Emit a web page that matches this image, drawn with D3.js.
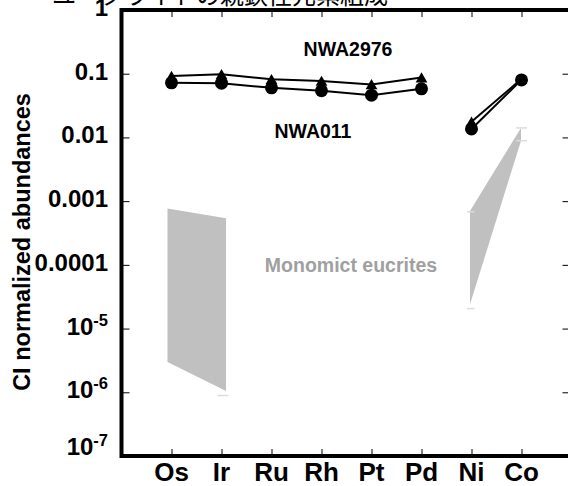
<!DOCTYPE html>
<html><head><meta charset="utf-8">
<script src="https://cdn.jsdelivr.net/npm/d3@7"></script>
<style>
html,body{margin:0;padding:0;background:#fff;}
svg{display:block;}
text{font-family:"Liberation Sans",Arial,Helvetica,sans-serif;font-weight:bold;}
</style></head>
<body>
<svg id="chart" width="568" height="486"></svg>
<script>
// ---- data ----
const title = "ユークライトの親鉄性元素組成";
const yTitle = "CI normalized abundances";
const categories = ["Os","Ir","Ru","Rh","Pt","Pd","Ni","Co"];
const yTicks = [1,0.1,0.01,0.001,0.0001,1e-5,1e-6,1e-7];
const yTickLabels = ["1","0.1","0.01","0.001","0.0001","10^-5","10^-6","10^-7"];
// NWA2976 (triangles) and NWA011 (circles)
const nwa2976 = [0.092,0.098,0.082,0.077,0.068,0.087,0.0176,0.083];
const nwa011  = [0.072,0.071,0.060,0.054,0.046,0.058,0.0136,0.080];
// Monomict eucrites ranges: [xIndex, low, high]
const eucriteRangeA = [[0.92,3.0e-6,7.7e-4],[2.09,1.05e-6,5.4e-4]];
const eucriteRangeB = [[6.97,2.4e-5,7.0e-4],[7.99,0.0089,0.0141]];
const eucriteCaps = [[1.98,8.9e-7],[2.08,8.9e-7],[6.97,2.06e-5],[7.0,2.06e-5],[6.97,6.8e-4],[7.0,6.8e-4],[7.95,0.0141],[8.05,0.0141],[7.95,0.0089],[8.05,0.0089]];
const labelNWA2976 = "NWA2976", labelNWA011 = "NWA011", labelEuc = "Monomict eucrites";

// ---- scales ----
const svg = d3.select("#chart");
const x = d3.scaleLinear().domain([0,9]).range([121.5,571.5]);
const y = d3.scaleLog().domain([1e-7,1]).range([456,10]);
const xi = i => x(i+1);

// title
svg.append("text").attr("x",52).attr("y",4)
  .style("font-family","'Noto Sans CJK JP',sans-serif").style("font-weight","normal")
  .style("font-size","24px").attr("fill","#000").text(title);

// eucrite polygons
const area = d3.area().x(d=>x(d[0])).y0(d=>y(d[1])).y1(d=>y(d[2]));
[eucriteRangeA,eucriteRangeB].forEach(r=>{
  svg.append("path").attr("d",area(r)).attr("fill","#c0c0c0").attr("stroke","none");
});
for(let k=0;k<eucriteCaps.length;k+=2){
  const a=eucriteCaps[k], b=eucriteCaps[k+1];
  svg.append("line").attr("x1",x(a[0])-3).attr("x2",x(b[0])+3)
    .attr("y1",y(a[1])).attr("y2",y(b[1]))
    .attr("stroke","#dcdcdc").attr("stroke-width",1.5);
}

// lines
const line = d3.line().defined(d=>d!=null).x((d,i)=>xi(i)).y(d=>y(d));
function seriesLine(vals){
  const seg1 = vals.map((v,i)=> i<6 ? v : null);
  const seg2 = vals.map((v,i)=> i>=6 ? v : null);
  [seg1,seg2].forEach(s=>{
    svg.append("path").attr("d",line(s)).attr("fill","none")
      .attr("stroke","#000").attr("stroke-width",2);
  });
}
seriesLine(nwa2976);
seriesLine(nwa011);

// markers
svg.selectAll(".circ").data(nwa011).enter().append("circle")
  .attr("cx",(d,i)=>xi(i)).attr("cy",d=>y(d)).attr("r",6.5).attr("fill","#000");
const tri = d3.symbol().type(d3.symbolTriangle).size(60);
svg.selectAll(".tri").data(nwa2976).enter().append("path")
  .attr("d",tri).attr("transform",(d,i)=>`translate(${xi(i)},${y(d)+1.5})`).attr("fill","#000");

// text labels
svg.append("text").attr("x",348).attr("y",y(0.1)-18).attr("text-anchor","middle")
  .style("font-size","19.5px").text(labelNWA2976);
svg.append("text").attr("x",313).attr("y",y(0.01)+1).attr("text-anchor","middle")
  .style("font-size","19.5px").text(labelNWA011);
svg.append("text").attr("x",351).attr("y",y(1e-4)+7).attr("text-anchor","middle")
  .style("font-size","19.5px").attr("fill","#a0a0a0").text(labelEuc);

// frame
const fr = svg.append("g").attr("stroke","#000").attr("stroke-width",4).attr("fill","none");
fr.append("line").attr("x1",x(0)).attr("x2",x(9)).attr("y1",y(1)).attr("y2",y(1));
fr.append("line").attr("x1",x(0)).attr("x2",x(9)).attr("y1",y(1e-7)).attr("y2",y(1e-7));
fr.append("line").attr("x1",x(0)).attr("x2",x(0)).attr("y1",y(1)-2).attr("y2",y(1e-7)+2);
fr.append("line").attr("x1",x(9)).attr("x2",x(9)).attr("y1",y(1)-2).attr("y2",y(1e-7)+2);

// ticks via axes (inward)
const catIdx = categories.map((c,i)=>i+1);
const axB = d3.axisBottom(x).tickValues(catIdx).tickSize(-7).tickFormat("");
const axT = d3.axisTop(x).tickValues(catIdx).tickSize(-7).tickFormat("");
const axL = d3.axisLeft(y).tickValues(yTicks).tickSize(-8).tickFormat("");
const axR = d3.axisRight(y).tickValues(yTicks).tickSize(-9).tickFormat("");
[[axB,`translate(0,${y(1e-7)})`],[axT,`translate(0,${y(1)})`],[axL,`translate(${x(0)},0)`],[axR,`translate(${x(9)},0)`]]
.forEach(([ax,tr])=>{
  const g=svg.append("g").attr("transform",tr).call(ax);
  g.select(".domain").remove();
  g.selectAll(".tick line").attr("stroke","#000").attr("stroke-width",1);
});

// y tick labels
yTicks.forEach((v,i)=>{
  const lab = yTickLabels[i];
  let yy = y(v)+6;
  if(i===yTicks.length-1) yy = y(v)-1;
  const t = svg.append("text").attr("x",108).attr("y",yy).attr("text-anchor","end")
    .style("font-size","24px");
  if(lab.includes("^")){
    const [b,e]=lab.split("^");
    t.append("tspan").text(b);
    t.append("tspan").attr("dy",-9).style("font-size","16.5px").text(e);
  } else t.text(lab);
});

// category labels
categories.forEach((c,i)=>{
  svg.append("text").attr("x",xi(i)).attr("y",481).attr("text-anchor","middle")
    .style("font-size","26px").text(c);
});

// y title
svg.append("text").attr("transform","translate(30,242) rotate(-90)")
  .attr("text-anchor","middle").style("font-size","23.5px").text(yTitle);
</script>
</body></html>
